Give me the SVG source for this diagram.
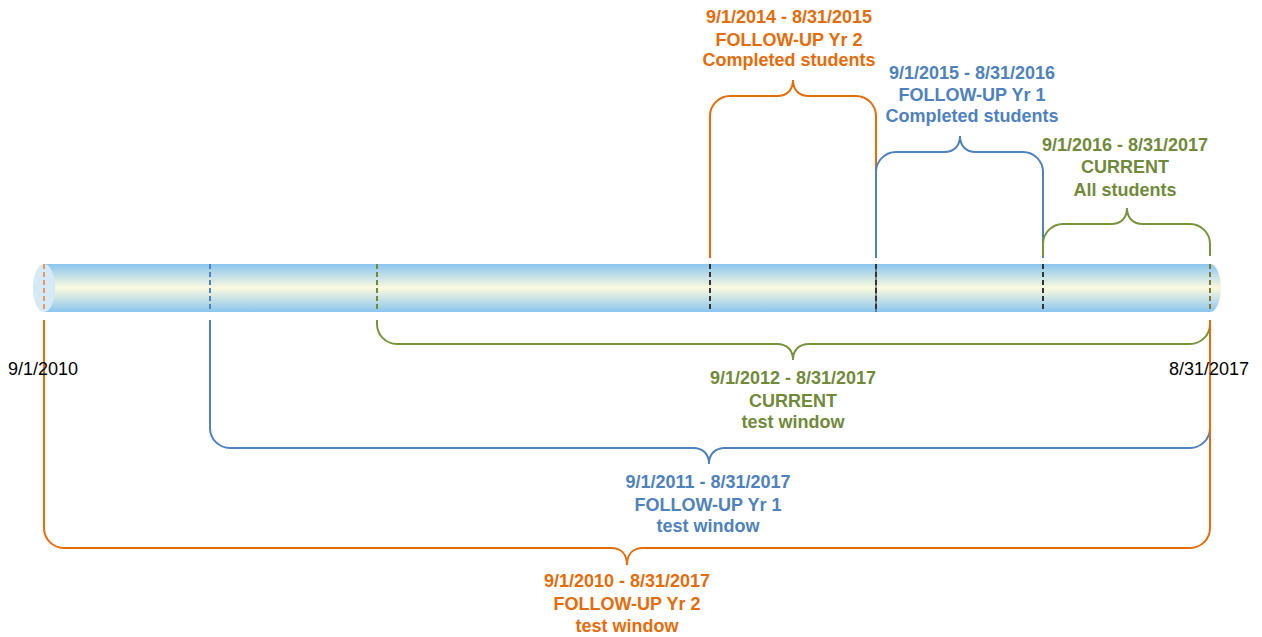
<svg xmlns="http://www.w3.org/2000/svg" width="1262" height="637" viewBox="0 0 1262 637">
<defs>
<linearGradient id="tube" x1="0" y1="0" x2="0" y2="1">
<stop offset="0" stop-color="#8AC6EF"/>
<stop offset="0.5" stop-color="#FCF9DE"/>
<stop offset="1" stop-color="#8AC6EF"/>
</linearGradient>
</defs>
<style>
.lbl{font-family:"Liberation Sans",Arial,sans-serif;font-size:18px;font-weight:bold;text-anchor:middle}
.date{font-family:"Liberation Sans",Arial,sans-serif;font-size:18px;fill:#000}
.or{fill:#E46C0A}.bl{fill:#4F81BD}.gr{fill:#71893A}
.br{fill:none;stroke-width:2}
.sor{stroke:#E46C0A}.sbl{stroke:#4F81BD}.sgr{stroke:#77933C}
.tick{stroke-width:2;stroke-dasharray:5 3}
</style>
<g id="tube-body">
<path d="M44,264 H1210 A11,24 0 0 1 1210,312 H44 Z" fill="url(#tube)"/>
<ellipse cx="44" cy="288" rx="11" ry="24" fill="#D5EAF8"/>
</g>
<g id="ticks">
<line x1="44" y1="264" x2="44" y2="312" class="tick" stroke="#E8985A"/>
<line x1="210" y1="264" x2="210" y2="312" class="tick" stroke="#4F81BD"/>
<line x1="377" y1="264" x2="377" y2="312" class="tick" stroke="#6E8A3C"/>
<line x1="710" y1="264" x2="710" y2="312" class="tick" stroke="#333"/>
<line x1="876" y1="264" x2="876" y2="312" stroke="#333" stroke-width="1"/>
<line x1="876" y1="264" x2="876" y2="312" class="tick" stroke="#333"/>
<line x1="1043" y1="264" x2="1043" y2="312" class="tick" stroke="#333"/>
<line x1="1210" y1="264" x2="1210" y2="312" class="tick" stroke="#7A7A3A"/>
</g>
<g id="connectors">
<path id="br-top-or" class="br sor" d="M710,258 V116 A20,20 0 0 1 730,96 H777 C787,96 793,90 793,80 C793,90 799,96 809,96 H856 A20,20 0 0 1 876,116 V258"/>
<path id="br-top-bl" class="br sbl" d="M876,258 V172 A20,20 0 0 1 896,152 H944 C954,152 960,146 960,136 C960,146 966,152 976,152 H1023 A20,20 0 0 1 1043,172 V258"/>
<path id="br-top-gr" class="br sgr" d="M1043,256 V244 A20,20 0 0 1 1063,224 H1111 C1121,224 1127,218 1127,208 C1127,218 1133,224 1143,224 H1190 A20,20 0 0 1 1210,244 V256"/>
<path id="br-bot-gr" class="br sgr" d="M377,320 V324 A20,20 0 0 0 397,344 H777 C787,344 793,350 793,360 C793,350 799,344 809,344 H1190 A20,20 0 0 0 1210,324 V320"/>
<path id="br-bot-bl" class="br sbl" d="M210,320 V428 A20,20 0 0 0 230,448 H693 C703,448 709,454 709,464 C709,454 715,448 725,448 H1190 A20,20 0 0 0 1210,428 V320"/>
<path id="br-bot-or" class="br sor" d="M44,320 V528 A20,20 0 0 0 64,548 H611 C621,548 627,554 627,565 C627,554 633,548 643,548 H1190 A20,20 0 0 0 1210,528 V320"/>
</g>
<g id="label-start"><text class="date" x="8" y="375">9/1/2010</text></g>
<g id="label-end"><text class="date" x="1169" y="375">8/31/2017</text></g>
<g id="node-fu2-completed">
<text class="lbl or" x="789" y="23">9/1/2014 - 8/31/2015</text>
<text class="lbl or" x="789" y="46">FOLLOW-UP Yr 2</text>
<text class="lbl or" x="789" y="66">Completed students</text>
</g>
<g id="node-fu1-completed">
<text class="lbl bl" x="972" y="79">9/1/2015 - 8/31/2016</text>
<text class="lbl bl" x="972" y="101">FOLLOW-UP Yr 1</text>
<text class="lbl bl" x="972" y="122">Completed students</text>
</g>
<g id="node-current-all">
<text class="lbl gr" x="1125" y="151">9/1/2016 - 8/31/2017</text>
<text class="lbl gr" x="1125" y="173">CURRENT</text>
<text class="lbl gr" x="1125" y="196">All students</text>
</g>
<g id="node-current-window">
<text class="lbl gr" x="793" y="384">9/1/2012 - 8/31/2017</text>
<text class="lbl gr" x="793" y="407">CURRENT</text>
<text class="lbl gr" x="793" y="428">test window</text>
</g>
<g id="node-fu1-window">
<text class="lbl bl" x="708" y="488">9/1/2011 - 8/31/2017</text>
<text class="lbl bl" x="708" y="511">FOLLOW-UP Yr 1</text>
<text class="lbl bl" x="708" y="532">test window</text>
</g>
<g id="node-fu2-window">
<text class="lbl or" x="627" y="587">9/1/2010 - 8/31/2017</text>
<text class="lbl or" x="627" y="610">FOLLOW-UP Yr 2</text>
<text class="lbl or" x="627" y="632">test window</text>
</g>
</svg>
